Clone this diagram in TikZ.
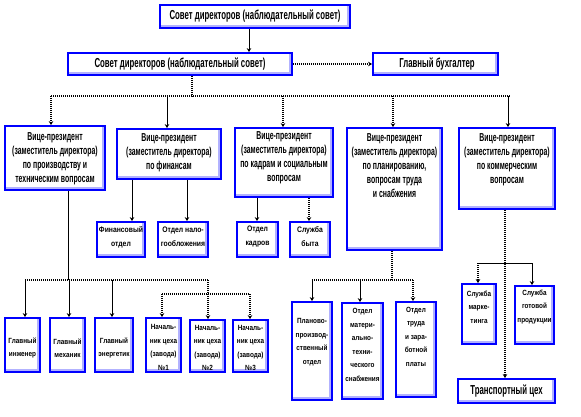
\documentclass[tikz,border=0pt]{standalone}
\usepackage{fontspec}
\setmainfont{Liberation Sans}
\newfontfamily\nA{Liberation Sans}[FakeStretch=0.6]
\newfontfamily\nB{Liberation Sans}[FakeStretch=0.85]
\usetikzlibrary{arrows.meta}
\tikzset{
 ubox/.style={draw=blue, line width=1.8pt, fill=white, inner sep=0pt,
   path picture={\draw[line width=1.4pt, blue!30]
     ([xshift=-1.9pt,yshift=-1pt]path picture bounding box.north east) --
     ([xshift=-1.9pt,yshift=1.9pt]path picture bounding box.south east) --
     ([xshift=1pt,yshift=1.9pt]path picture bounding box.south west);}},
 lbl/.style={align=center, inner sep=0pt},
 fbig/.style={font=\nA\bfseries\fontsize{13}{15}\selectfont},
 fvp/.style={font=\nA\bfseries\fontsize{11.5}{14}\selectfont},
 fsm/.style={font=\nB\bfseries\fontsize{8}{14}\selectfont},
 fbot/.style={font=\nB\bfseries\fontsize{7.5}{13.5}\selectfont},
 sol/.style={line width=1pt},
 dot/.style={line width=1.5pt, dash pattern=on 1pt off 1pt},
 arr/.style={-{Stealth[length=4pt,width=4.5pt]}},
}
\begin{document}
\begin{tikzpicture}[x=1pt,y=-1pt]
\useasboundingbox[fill=white] (0,0) rectangle (581,416);
% ---- boxes
\node[ubox, minimum width=190, minimum height=23] (top) at (255,16.5) {};
\node[lbl,fbig] (top-t) at (255,16.5) {Совет директоров (наблюдательный совет)};
\node[ubox, minimum width=224, minimum height=22] (sd) at (180,64) {};
\node[lbl,fbig] (sd-t) at (180,64) {Совет директоров (наблюдательный совет)};
\node[ubox, minimum width=125, minimum height=22] (gb) at (435.5,64) {};
\node[lbl,fbig] (gb-t) at (437,64) {Главный бухгалтер};

\node[ubox, minimum width=100, minimum height=64] (vp1) at (55,158) {};
\node[lbl,fvp] (vp1-t) at (55,159) {Вице-президент\\(заместитель директора)\\по производству и\\техническим вопросам};
\node[ubox, minimum width=104, minimum height=50] (vp2) at (169,154) {};
\node[lbl,fvp] (vp2-t) at (169,153) {Вице-президент\\(заместитель директора)\\по финансам};
\node[ubox, minimum width=98, minimum height=69] (vp3) at (284,162.5) {};
\node[lbl,fvp] (vp3-t) at (284,158) {Вице-президент\\(заместитель директора)\\по кадрам и социальным\\вопросам};
\node[ubox, minimum width=95, minimum height=122] (vp4) at (394.5,189) {};
\node[lbl,fvp] (vp4-t) at (394.5,166) {Вице-президент\\(заместитель директора)\\по планированию,\\вопросам труда\\и снабжения};
\node[ubox, minimum width=96, minimum height=81] (vp5) at (507,168.5) {};
\node[lbl,fvp] (vp5-t) at (507,160) {Вице-президент\\(заместитель директора)\\по коммерческим\\вопросам};

\node[ubox, minimum width=48, minimum height=35] (fin) at (121,239.5) {};
\node[lbl,fsm] (fin-t) at (121,237) {Финансовый\\отдел};
\node[ubox, minimum width=50, minimum height=35] (nal) at (183,239.5) {};
\node[lbl,fsm] (nal-t) at (183,237) {Отдел нало-\\гообложения};
\node[ubox, minimum width=41, minimum height=35] (kad) at (257.5,239.5) {};
\node[lbl,fsm] (kad-t) at (257.5,237) {Отдел\\кадров};
\node[ubox, minimum width=40, minimum height=35] (byt) at (310,239.5) {};
\node[lbl,fsm] (byt-t) at (310,237) {Служба\\быта};

\node[ubox, minimum width=35, minimum height=54] (ing) at (22.5,345) {};
\node[lbl,fbot] (ing-t) at (22.5,348) {Главный\\инженер};
\node[ubox, minimum width=35, minimum height=54] (mex) at (67.5,345) {};
\node[lbl,fbot] (mex-t) at (67.5,348) {Главный\\механик};
\node[ubox, minimum width=38, minimum height=54] (en) at (114,345) {};
\node[lbl,fbot] (en-t) at (114,348) {Главный\\энергетик};
\node[ubox, minimum width=35, minimum height=54] (nc1) at (163.5,345) {};
\node[lbl,fbot] (nc1-t) at (163.5,347.5) {Началь-\\ник цеха\\(завода)\\№1};
\node[ubox, minimum width=35, minimum height=52] (nc2) at (207.5,346) {};
\node[lbl,fbot] (nc2-t) at (207.5,348) {Началь-\\ник цеха\\(завода)\\№2};
\node[ubox, minimum width=35, minimum height=52] (nc3) at (250.5,346) {};
\node[lbl,fbot] (nc3-t) at (250.5,348) {Началь-\\ник цеха\\(завода)\\№3};

\node[ubox, minimum width=40, minimum height=98] (ppo) at (312,351) {};
\node[lbl,fbot] (ppo-t) at (312,342) {Планово-\\производ-\\ственный\\отдел};
\node[ubox, minimum width=41, minimum height=96] (mts) at (362.5,351) {};
\node[lbl,fbot] (mts-t) at (362.5,345) {Отдел\\матери-\\ально-\\техни-\\ческого\\снабжения};
\node[ubox, minimum width=40, minimum height=95] (tzp) at (416,349.5) {};
\node[lbl,fbot] (tzp-t) at (416,336.5) {Отдел\\труда\\и зара-\\ботной\\платы};

\node[ubox, minimum width=34, minimum height=60] (mark) at (479,314) {};
\node[lbl,fbot] (mark-t) at (479,307) {Служба\\марке-\\тинга};
\node[ubox, minimum width=39, minimum height=58] (gp) at (534.5,315) {};
\node[lbl,fbot] (gp-t) at (534.5,307) {Служба\\готовой\\продукции};
\node[ubox, minimum width=97, minimum height=24] (tr) at (506.5,391) {};
\node[lbl,fbig] (tr-t) at (506.5,391) {Транспортный цех};

% ---- connectors
\coordinate (jt) at (249,0);
\draw[sol,arr] (top.south -| jt) -- (sd.north -| jt);
\draw[dot,arr] (sd.east) -- (gb.west);

\coordinate (bus) at (192,96);
\coordinate (busL) at (51,96);
\coordinate (busR) at (510,96);
\coordinate (d2) at (167,96);
\coordinate (d3) at (283,96);
\coordinate (d4) at (393,96);
\coordinate (d5) at (508,96);
\draw[dot] (bus |- sd.south) -- (bus);
\draw[dot] (busL) -- (busR);
\draw[dot,arr] (busL) -- (busL |- vp1.north);
\draw[sol,arr] (d2) -- (d2 |- vp2.north);
\draw[dot,arr] (d3) -- (d3 |- vp3.north);
\draw[dot,arr] (d4) -- (d4 |- vp4.north);
\draw[sol,arr] (d5) -- (d5 |- vp5.north);

% VP2 / VP3 children
\coordinate (f1) at (132,0);
\coordinate (f2) at (187,0);
\coordinate (k1) at (257,0);
\coordinate (k2) at (309,0);
\draw[sol,arr] (f1 |- vp2.south) -- (f1 |- fin.north);
\draw[sol,arr] (f2 |- vp2.south) -- (f2 |- nal.north);
\draw[sol,arr] (k1 |- vp3.south) -- (k1 |- kad.north);
\draw[dot,arr] (k2 |- vp3.south) -- (k2 |- byt.north);

% VP1 children
\coordinate (p1) at (68,280);
\coordinate (p1L) at (25,280);
\coordinate (p1m) at (69,280);
\coordinate (p1e) at (112,280);
\coordinate (p1R) at (208,280);
\coordinate (p2L) at (162,294);
\coordinate (p2R) at (250,294);
\draw[sol] (p1 |- vp1.south) -- (p1);
\draw[dot] (p1L) -- (p1R);
\draw[sol,arr] (p1L) -- (p1L |- ing.north);
\draw[sol,arr] (p1m) -- (p1m |- mex.north);
\draw[sol,arr] (p1e) -- (p1e |- en.north);
\draw[dot,arr] (p1R) -- (p1R |- nc2.north);
\draw[dot] (p2L) -- (p2R);
\draw[dot,arr] (p2L) -- (p2L |- nc1.north);
\draw[dot,arr] (p2R) -- (p2R |- nc3.north);

% VP4 children
\coordinate (q) at (392,280);
\coordinate (qL) at (312,280);
\coordinate (qM) at (360,280);
\coordinate (qR) at (413,280);
\draw[dot] (q |- vp4.south) -- (q);
\draw[dot] (qL) -- (qR);
\draw[sol,arr] (qL) -- (qL |- ppo.north);
\draw[sol,arr] (qM) -- (qM |- mts.north);
\draw[dot,arr] (qR) -- (qR |- tzp.north);

% VP5 children
\coordinate (r) at (505,0);
\coordinate (rL) at (478,263);
\coordinate (rR) at (532,263);
\draw[dot,arr] (r |- vp5.south) -- (r |- tr.north);
\draw[sol] (rL) -- (rR);
\draw[dot,arr] (rL) -- (rL |- mark.north);
\draw[sol,arr] (rR) -- (rR |- gp.north);
\end{tikzpicture}
\end{document}
